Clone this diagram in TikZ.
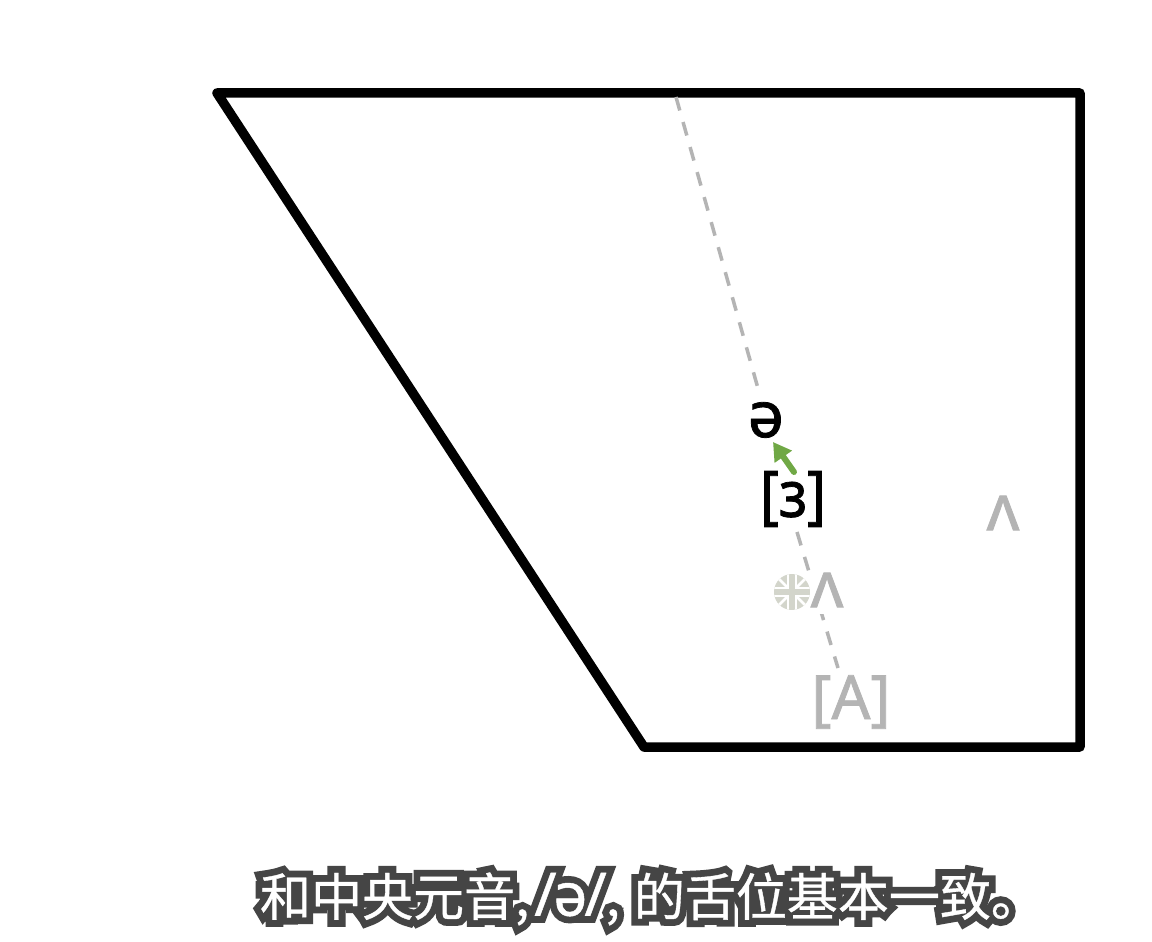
\documentclass[tikz,border=0pt]{standalone}
\usepackage{fontspec}
\setmainfont{Noto Sans}
\newfontfamily\ipaf[FakeBold=1.2]{Noto Sans}
\newfontfamily\ipag[FakeBold=1.2]{Noto Sans}
\newfontfamily\cjk[FakeBold=0.7]{Noto Sans CJK SC}
\newfontfamily\latc[FakeBold=0.7]{Noto Sans}
\newfontfamily\cjkplain{Noto Sans CJK SC}
\newfontfamily\latplain{Noto Sans}
\usetikzlibrary{arrows.meta}
\definecolor{lgray}{HTML}{B4B4B4}
\definecolor{dgreen}{HTML}{70A845}
\definecolor{flagc}{HTML}{D3D5CB}
\newcommand{\capt}[1]{和中央元音,\hspace{7pt}{\fontsize{60}{60}\selectfont#1\hspace{-2pt}/\hspace{-3pt}ə\hspace{-3pt}/}\hspace{-1pt},\hspace{14pt}的舌位基本一致。}
\newcommand{\outl}[1]{\special{pdf:code q 1 Tr 14 w 0.27 G 0 j 2 M}#1\special{pdf:code Q}}
\tikzset{
  frame/.style={draw=black,line width=9.5pt,line join=round},
  guide/.style={draw=lgray,line width=3.5pt,dash pattern=on 14pt off 12pt},
  ipa/.style={inner sep=0pt,font=\ipaf\fontsize{64}{64}\selectfont},
  ipagray/.style={inner sep=0pt,font=\ipag\fontsize{64}{64}\selectfont,text=lgray},
  flagline/.style={draw=white,line width=2.5pt},
  subt/.style={inner sep=0pt,font=\cjk\fontsize{51}{55}\selectfont},
  subtline/.style={inner sep=0pt,font=\cjkplain\fontsize{51}{55}\selectfont}
}
\begin{document}
\begin{tikzpicture}[x=1pt,y=-1pt]
\useasboundingbox (0,0) rectangle (1152,942);
\fill[white] (0,0) rectangle (1152,942);
\draw[frame] (217,93) -- (1080,93) -- (1080,747) -- (644,747) -- cycle;
\node[ipa] (schwa) at (766,420) {ə};
\node[ipa] (er) at (793,499) {\scalebox{0.9}[1]{[ɜ]}};
\node[ipagray] (wedgeB) at (1003,513) {ʌ};
\node[ipagray,font=\ipag\fontsize{61}{61}\selectfont] (bigA) at (851,702) {[A]};
\coordinate (dashtop) at (676,97);
\coordinate (dashend) at (838,668);
\coordinate (schwatop) at (759,392);
\coordinate (erbot) at (797,532);
\draw[guide] (dashtop) -- (schwatop);
\draw[guide] (erbot) -- (dashend);
\fill[white] (810,576) rectangle (845,614);
\node[ipagray] (wedgeA) at (827,590) {ʌ};
\coordinate (arrowstart) at (794,472);
\coordinate (arrowtip) at (773,442);
\draw[dgreen,line width=6pt,line cap=round,-{Triangle[length=18pt,width=20pt]}] (arrowstart) -- (arrowtip);
\begin{scope}
\clip (792,592) circle (18);
\fill[flagc] (774,574) rectangle (810,610);
\draw[flagline] (774,574) -- (810,610);
\draw[flagline] (774,610) -- (810,574);
\draw[draw=white,line width=10pt] (792,574) -- (792,610);
\draw[draw=white,line width=10pt] (774,592) -- (810,592);
\draw[draw=flagc,line width=6.5pt] (792,574) -- (792,610);
\draw[draw=flagc,line width=6.5pt] (774,592) -- (810,592);
\end{scope}
\node[subtline] (captionline) at (651,899) {\outl{\capt{\latplain}}};
\node[subt,text=white] (caption) at (651,899) {\capt{\latc}};
\end{tikzpicture}
\end{document}
